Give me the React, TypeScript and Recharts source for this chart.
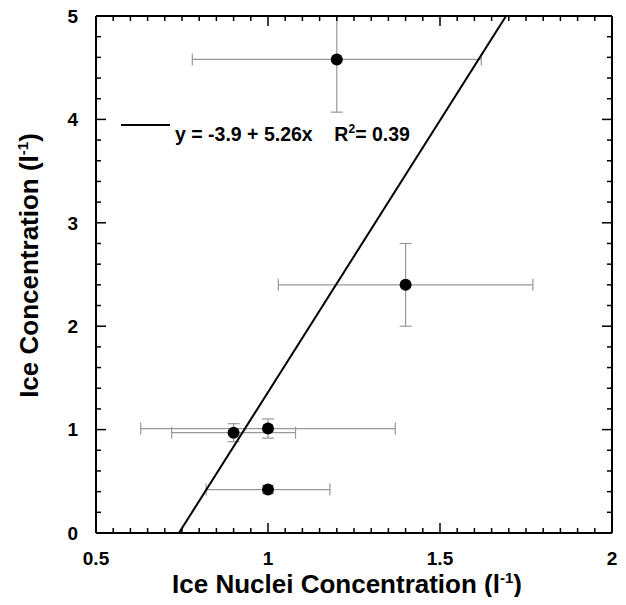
import { ErrorBar, Legend, Scatter, ScatterChart, XAxis, YAxis } from "recharts";

// ice nuclei concentration (x) vs ice concentration (y)
const nucleiConc = [1.2, 1.4, 0.9, 1.0, 1.0];
const iceConc = [4.58, 2.4, 0.97, 1.01, 0.42];
const nucleiErr = [0.42, 0.37, 0.18, 0.37, 0.18];
// [below, above]; the top bar of the first point stops at the frame
const iceErr = [
  [0.51, 0.42],
  [0.4, 0.4],
  [0.087, 0.087],
  [0.093, 0.093],
  [0.04, 0.04],
];

// ends of the fitted line y = -3.9 + 5.26x inside the frame
const fitX = [0.741, 1.692];
const fitY = [0, 5];

const xMajor = [0.5, 1, 1.5, 2];
const yMajor = [0, 1, 2, 3, 4, 5];
const xTicks = [
  0.5, 0.55, 0.6, 0.65, 0.7, 0.75, 0.8, 0.85, 0.9, 0.95,
  1, 1.05, 1.1, 1.15, 1.2, 1.25, 1.3, 1.35, 1.4, 1.45,
  1.5, 1.55, 1.6, 1.65, 1.7, 1.75, 1.8, 1.85, 1.9, 1.95, 2,
];
const yTicks = [
  0, 0.2, 0.4, 0.6, 0.8, 1, 1.2, 1.4, 1.6, 1.8, 2, 2.2, 2.4, 2.6, 2.8,
  3, 3.2, 3.4, 3.6, 3.8, 4, 4.2, 4.4, 4.6, 4.8, 5,
];

const points = nucleiConc.map((x, i) => ({ x, y: iceConc[i], xErr: nucleiErr[i], yErr: iceErr[i] }));
const fitLine = fitX.map((x, i) => ({ x, y: fitY[i] }));

const FONT = "'Liberation Sans', Arial, Helvetica, sans-serif";
const tickStroke = { stroke: "#000", strokeWidth: 1.5 };
const frame = { stroke: "#000", strokeWidth: 2 };

// eslint-disable-next-line @typescript-eslint/no-explicit-any
const BottomTick = (props: any) => {
  const { x, y, payload } = props;
  const major = xMajor.includes(payload.value);
  return (
    <g>
      <line x1={x} y1={y} x2={x} y2={y - (major ? 10 : 5)} {...tickStroke} />
      {major && (
        <text x={x} y={y + 32} textAnchor="middle" fontSize={19} fontWeight="bold" fontFamily={FONT} fill="#000">
          {payload.value}
        </text>
      )}
    </g>
  );
};

// eslint-disable-next-line @typescript-eslint/no-explicit-any
const TopTick = (props: any) => {
  const { x, y, payload } = props;
  const major = xMajor.includes(payload.value);
  return <line x1={x} y1={y} x2={x} y2={y + (major ? 10 : 5)} {...tickStroke} />;
};

// eslint-disable-next-line @typescript-eslint/no-explicit-any
const LeftTick = (props: any) => {
  const { x, y, payload } = props;
  const major = yMajor.includes(payload.value);
  return (
    <g>
      <line x1={x} y1={y} x2={x + (major ? 10 : 5)} y2={y} {...tickStroke} />
      {major && (
        <text x={x - 18} y={y} dy="0.36em" textAnchor="end" fontSize={19} fontWeight="bold" fontFamily={FONT} fill="#000">
          {payload.value}
        </text>
      )}
    </g>
  );
};

// eslint-disable-next-line @typescript-eslint/no-explicit-any
const RightTick = (props: any) => {
  const { x, y, payload } = props;
  const major = yMajor.includes(payload.value);
  return <line x1={x} y1={y} x2={x - (major ? 10 : 5)} y2={y} {...tickStroke} />;
};

// eslint-disable-next-line @typescript-eslint/no-explicit-any
const XTitle = (props: any) => {
  const { viewBox } = props;
  const cx = viewBox.x + viewBox.width / 2 - 7;
  const cy = viewBox.y + 60;
  return (
    <text x={cx} y={cy} textAnchor="middle" fontSize={26} fontWeight="bold" fontFamily={FONT} fill="#000">
      Ice Nuclei Concentration (l
      <tspan dy={-10} fontSize={15}>-1</tspan>
      <tspan dy={10}>)</tspan>
    </text>
  );
};

// eslint-disable-next-line @typescript-eslint/no-explicit-any
const YTitle = (props: any) => {
  const { viewBox } = props;
  const cx = viewBox.x + 30;
  const cy = viewBox.y + viewBox.height / 2 - 9;
  return (
    <text
      x={cx}
      y={cy}
      transform={`rotate(-90, ${cx}, ${cy})`}
      textAnchor="middle"
      fontSize={26}
      fontWeight="bold"
      fontFamily={FONT}
      fill="#000"
    >
      Ice Concentration (l
      <tspan dy={-10} fontSize={15}>-1</tspan>
      <tspan dy={10}>)</tspan>
    </text>
  );
};

const FitLegend = () => (
  <div style={{ position: "relative", width: 340, height: 28, fontFamily: FONT }}>
    <div style={{ position: "absolute", left: 0, top: 2, width: 49, borderTop: "2px solid #000" }} />
    <div
      style={{
        position: "absolute",
        left: 54,
        top: 1,
        fontSize: 19.5,
        fontWeight: "bold",
        lineHeight: "22px",
        whiteSpace: "pre",
        color: "#000",
      }}
    >
      {"y = -3.9 + 5.26x    R"}
      <span style={{ position: "relative", top: -8, fontSize: 12 }}>2</span>
      {"= 0.39"}
    </div>
  </div>
);

// eslint-disable-next-line @typescript-eslint/no-explicit-any
const Dot = (props: any) => <circle cx={props.cx} cy={props.cy} r={6} fill="#000" />;

const App = () => {
  return (
    <div style={{ margin: -8 }}>
      <ScatterChart width={626} height={605} margin={{ top: 16, right: 14, bottom: 7, left: 8 }}>
        <XAxis
          xAxisId="b"
          type="number"
          dataKey="x"
          domain={[0.5, 2]}
          allowDataOverflow
          ticks={xTicks}
          interval={0}
          height={65}
          tickSize={0}
          tickMargin={0}
          tickLine={false}
          axisLine={frame}
          tick={<BottomTick />}
          label={<XTitle />}
        />
        <XAxis
          xAxisId="t"
          orientation="top"
          mirror
          type="number"
          dataKey="x"
          domain={[0.5, 2]}
          allowDataOverflow
          ticks={xTicks}
          interval={0}
          tickSize={0}
          tickMargin={0}
          tickLine={false}
          axisLine={frame}
          tick={<TopTick />}
        />
        <YAxis
          yAxisId="l"
          type="number"
          dataKey="y"
          domain={[0, 5]}
          allowDataOverflow
          ticks={yTicks}
          interval={0}
          width={88}
          tickSize={0}
          tickMargin={0}
          tickLine={false}
          axisLine={frame}
          tick={<LeftTick />}
          label={<YTitle />}
        />
        <YAxis
          yAxisId="r"
          orientation="right"
          mirror
          type="number"
          dataKey="y"
          domain={[0, 5]}
          allowDataOverflow
          ticks={yTicks}
          interval={0}
          tickSize={0}
          tickMargin={0}
          tickLine={false}
          axisLine={frame}
          tick={<RightTick />}
        />
        <Legend
          layout="horizontal"
          verticalAlign="middle"
          align="center"
          wrapperStyle={{ left: 121, top: 122, width: 340, height: 28 }}
          content={() => <FitLegend />}
        />
        <Scatter
          xAxisId="b"
          yAxisId="l"
          data={fitLine}
          line={{ stroke: "#000", strokeWidth: 2 }}
          shape={() => <g />}
          legendType="none"
          isAnimationActive={false}
        />
        <Scatter
          xAxisId="b"
          yAxisId="l"
          data={points}
          shape={<Dot />}
          legendType="none"
          isAnimationActive={false}
        >
          <ErrorBar dataKey="xErr" direction="x" width={6} stroke="#999" strokeWidth={1.2} isAnimationActive={false} />
          <ErrorBar dataKey="yErr" direction="y" width={6} stroke="#999" strokeWidth={1.2} isAnimationActive={false} />
        </Scatter>
      </ScatterChart>
    </div>
  );
};

export default App;
